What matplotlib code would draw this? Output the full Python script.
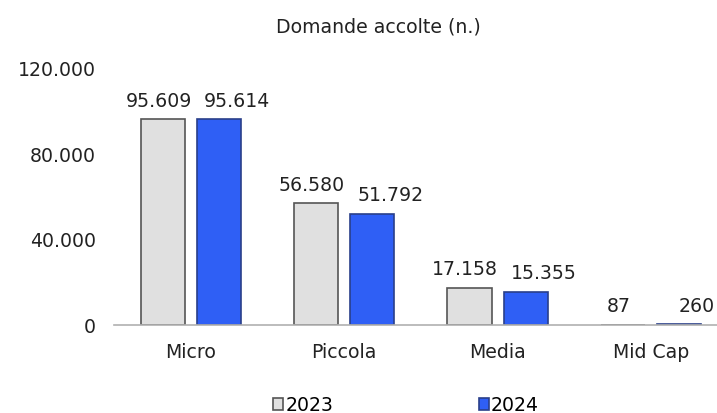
import numpy as np
import matplotlib.pyplot as plt

plt.rcParams['font.family'] = ['DejaVu Sans']

categories = ['Micro', 'Piccola', 'Media', 'Mid Cap']
series_names = ['2023', '2024']
values_2023 = [95609, 56580, 17158, 87]
values_2024 = [95614, 51792, 15355, 260]
yticks = [0, 40000, 80000, 120000]


def fmt(v):
    return f'{v:,}'.replace(',', '.')


fs = 13.6
fig = plt.figure(figsize=(7.17, 4.14), dpi=100)
ax = fig.add_axes([114 / 717, (414 - 326) / 414, (717 - 114) / 717, (326 - 68) / 414])

x = np.arange(len(categories))
w = 0.287
off = 0.183
b1 = ax.bar(x - off, values_2023, w, color='#e0e0e0', edgecolor='#555555', linewidth=1.2, label=series_names[0])
b2 = ax.bar(x + off, values_2024, w, color='#2f5ff5', edgecolor='#2a3f8a', linewidth=1.2, label=series_names[1])

# labels are pushed sideways a bit, like in the original
for bars, vals, dx in [(b1, values_2023, -3), (b2, values_2024, 13)]:
    for bar, v in zip(bars, vals):
        ax.annotate(fmt(v), (bar.get_x() + bar.get_width() / 2, bar.get_height()),
                    xytext=(dx, 7), textcoords='offset points', ha='center', va='bottom',
                    fontsize=fs, color='#222222')

ax.set_ylim(0, 120000)
ax.set_xlim(-0.5, 3.43)
ax.set_yticks(yticks)
ax.set_yticklabels([fmt(t) for t in yticks])
ax.set_xticks(x)
ax.set_xticklabels(categories)
ax.tick_params(length=0, labelsize=fs, colors='#222222')
ax.tick_params(axis='x', pad=12)
ax.tick_params(axis='y', pad=13)
for s in ['top', 'right', 'left']:
    ax.spines[s].set_visible(False)
ax.spines['bottom'].set_color('#b0b0b0')
ax.spines['bottom'].set_linewidth(1.2)

fig.text(378 / 717, 1 - 27 / 414, 'Domande accolte (n.)', ha='center', va='center', fontsize=fs, color='#222222')

fig.legend(loc='center', bbox_to_anchor=(406 / 717, 1 - 406 / 414), ncol=2, frameon=False,
           fontsize=fs, handlelength=0.55, handleheight=0.55, handletextpad=0.1, columnspacing=7.7,
           borderpad=0)

fig.savefig('out.png', dpi=100)
